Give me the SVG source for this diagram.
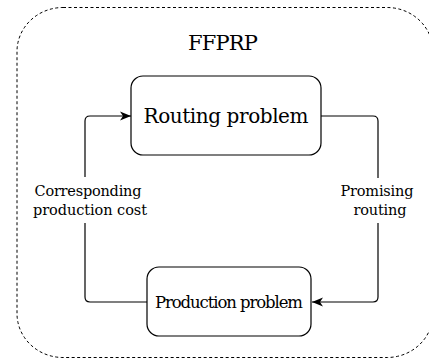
<svg xmlns="http://www.w3.org/2000/svg" width="429" height="361" viewBox="0 0 429 361">
<style>
.box{fill:#fff;stroke:#000;stroke-width:1.2}
.frame{fill:none;stroke:#000;stroke-width:1;stroke-dasharray:3 2.5}
.conn{fill:none;stroke:#000;stroke-width:1.2}
.t{fill:#000;text-anchor:middle;font-family:"DejaVu Serif",serif}
</style>
<defs>
<marker id="arr" markerUnits="userSpaceOnUse" markerWidth="13" markerHeight="11" refX="11" refY="5.5" orient="auto">
<path d="M0,1 L11,5.5 L0,10 L3,5.5 z" fill="#000"/>
</marker>
</defs>
<g id="frame">
<rect class="frame" x="17" y="7.5" width="416" height="350" rx="46" ry="44"/>
<text class="t" x="223" y="50" font-size="21" textLength="70">FFPRP</text>
</g>
<g id="connectors">
<path class="conn" d="M147,302 H90 Q85,302 85,297 V223 M85,177 V121 Q85,116 90,116 H131" marker-end="url(#arr)"/>
<path class="conn" d="M321,116 H373 Q378,116 378,121 V178 M378,223 V297 Q378,302 373,302 H312" marker-end="url(#arr)"/>
</g>
<g id="routing">
<rect class="box" x="131" y="76" width="190" height="79" rx="12"/>
<text class="t" x="226" y="123" font-size="20" textLength="165">Routing problem</text>
</g>
<g id="production">
<rect class="box" x="147" y="267" width="164" height="69" rx="12"/>
<text class="t" x="229" y="308" font-size="16.5" textLength="148">Production problem</text>
</g>
<g id="label-left">
<text class="t" x="88" y="196" font-size="14.5" textLength="107">Corresponding</text>
<text class="t" x="90" y="215" font-size="14.5" textLength="114">production cost</text>
</g>
<g id="label-right">
<text class="t" x="377" y="196" font-size="14.5" textLength="73">Promising</text>
<text class="t" x="380" y="215" font-size="14.5" textLength="53">routing</text>
</g>
</svg>
